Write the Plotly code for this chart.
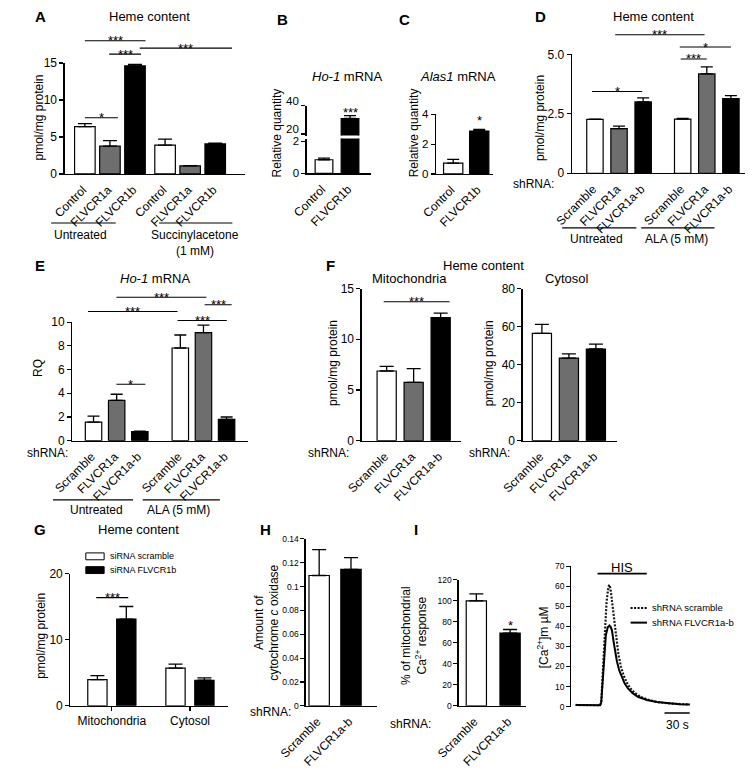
import plotly.graph_objects as go

W, H = 755, 772
WHITE, GRAY, BLACK = "#ffffff", "#6e6e6e", "#000000"
FONT = "Liberation Sans, Arial, Helvetica, sans-serif"

# ---------------- data ----------------
# A: heme content (pmol/mg protein)
a_labels = ["Control", "FLVCR1a", "FLVCR1b", "Control", "FLVCR1a", "FLVCR1b"]
a_values = [6.4, 3.75, 14.6, 3.9, 1.1, 4.05]
a_errors = [0.4, 0.75, 0.2, 0.8, 0.03, 0.12]
a_groups = ["Untreated", "Succinylacetone", "(1 mM)"]

# B: Ho-1 mRNA (relative quantity, broken axis)
b_labels = ["Control", "FLVCR1b"]
b_values = [0.85, 31.0]
b_errors = [0.1, 2.0]
b_upper_ticks = [20, 40]

# C: Alas1 mRNA (relative quantity)
c_labels = ["Control", "FLVCR1b"]
c_values = [0.73, 2.88]
c_errors = [0.25, 0.1]

# D: heme content, shRNA
d_labels = ["Scramble", "FLVCR1a", "FLVCR1a-b", "Scramble", "FLVCR1a", "FLVCR1a-b"]
d_values = [2.27, 1.88, 3.0, 2.28, 4.18, 3.14]
d_errors = [0.01, 0.1, 0.17, 0.03, 0.3, 0.13]
d_groups = ["Untreated", "ALA (5 mM)"]

# E: Ho-1 mRNA RQ
e_labels = ["Scramble", "FLVCR1a", "FLVCR1a-b", "Scramble", "FLVCR1a", "FLVCR1a-b"]
e_values = [1.57, 3.4, 0.77, 7.82, 9.12, 1.8]
e_errors = [0.5, 0.52, 0.03, 1.1, 0.63, 0.2]
e_groups = ["Untreated", "ALA (5 mM)"]

# F: heme content, mitochondria / cytosol
f_labels = ["Scramble", "FLVCR1a", "FLVCR1a-b"]
f_mito_values = [6.87, 5.74, 12.13]
f_mito_errors = [0.45, 1.36, 0.45]
f_cyto_values = [56.4, 43.4, 48.2]
f_cyto_errors = [4.7, 2.2, 2.6]

# G: heme content, siRNA
g_categories = ["Mitochondria", "Cytosol"]
g_scramble = [3.97, 5.7]
g_scramble_err = [0.6, 0.6]
g_flvcr1b = [13.15, 3.87]
g_flvcr1b_err = [1.9, 0.35]
g_series = ["siRNA scramble", "siRNA FLVCR1b"]

# H: cytochrome c oxidase
h_labels = ["Scramble", "FLVCR1a-b"]
h_values = [0.1093, 0.1145]
h_errors = [0.0217, 0.0098]

# I: mitochondrial Ca2+ response
i_labels = ["Scramble", "FLVCR1a-b"]
i_values = [99.8, 69.2]
i_errors = [6.8, 3.4]

# I: [Ca2+]m traces (time in s, concentration in uM)
i_t_scr = [0, 8, 16, 24, 29, 30.5, 32, 34, 36.8, 38.5, 39.9, 41.5, 43, 45, 47, 49, 51,
           54, 57, 61, 65, 70, 78, 88, 97, 110, 124, 136]
i_ca_scr = [0.8, 0.8, 0.7, 0.6, 0.6, 2.0, 13.0, 34.0, 51.7, 58.0, 60.7, 59.0, 54.0, 47.0,
            39.0, 32.0, 26.0, 20.0, 15.8, 12.0, 9.2, 7.0, 4.7, 3.2, 2.3, 1.6, 1.2, 1.0]
i_t_kd = [0, 8, 16, 24, 29, 30.5, 32, 34, 36, 38.3, 40.3, 42, 43.3, 45.3, 47, 49.2, 52,
          55, 58.5, 62.7, 68, 74.2, 85, 97, 110, 124, 136]
i_ca_kd = [0.8, 0.8, 0.7, 0.6, 0.6, 2.0, 12.0, 27.0, 35.5, 39.5, 40.4, 39.5, 38.0, 32.3,
           27.5, 22.6, 18.0, 14.6, 11.5, 8.9, 6.7, 4.9, 3.3, 2.3, 1.6, 1.2, 1.0]
i_series = ["shRNA scramble", "shRNA FLVCR1a-b"]
i_his = [26.1, 84.8]      # HIS application window (s)
i_scale = [106, 136]      # 30 s scale bar

# ---------------- helpers ----------------
fig = go.Figure()
axes = {}
shapes = []
annotations = []


def ref(i, l):
    return l if i == 1 else f"{l}{i}"


def axname(i, l):
    return f"{l}axis" if i == 1 else f"{l}axis{i}"


def fx(x):
    return x / W


def fy(y):
    return 1 - y / H


def text_px(text, x, y, size=12, xanchor="center", yanchor="middle", angle=0):
    annotations.append(dict(text=text, x=fx(x), y=fy(y), xref="paper", yref="paper",
                            showarrow=False, xanchor=xanchor, yanchor=yanchor,
                            textangle=angle,
                            font=dict(size=size, color="black", family=FONT)))


def line_px(x0, x1, y, width=1.2, dash="solid"):
    shapes.append(dict(type="line", xref="paper", yref="paper", x0=fx(x0), x1=fx(x1),
                       y0=fy(y), y1=fy(y), line=dict(color="black", width=width, dash=dash)))


def positions(sizes, gap):
    pos, off = [], 0.0
    for n in sizes:
        pos += [off + k for k in range(n)]
        off += n + gap
    return pos


def setup_axes(i, L, R, top, bot, c0, u, yr, yticks, yticktext=None, xticks=None,
               xlabels=None, ysize=12, xangle=-45, xvisible=True, xtickmarks="", shift=0,
               standoff=0, ylabels=True):
    xr = [-(c0 - L) / u, (R - c0) / u]
    xa = dict(
        domain=[L / W, R / W], range=xr, anchor=ref(i, "y"), showline=True,
        linecolor="black", linewidth=1.2, showgrid=False, zeroline=False,
        ticks=xtickmarks, ticklen=4, tickwidth=1.2, tickcolor="black",
        tickangle=xangle, tickfont=dict(size=12, color="black", family=FONT),
        visible=xvisible, fixedrange=True)
    if xticks is not None:
        xa.update(tickmode="array", tickvals=xticks, ticktext=xlabels)
    else:
        xa.update(showticklabels=False)
    if shift:
        xa.update(ticklabelshift=shift)
    if standoff:
        xa.update(ticklabelstandoff=standoff)
    axes[axname(i, "x")] = xa
    axes[axname(i, "y")] = dict(
        domain=[1 - bot / H, 1 - top / H], range=yr, anchor=ref(i, "x"), showline=True,
        linecolor="black", linewidth=1.2, showgrid=False, zeroline=False,
        ticks="outside", ticklen=4, tickwidth=1.2, tickcolor="black",
        tickmode="array", tickvals=yticks,
        ticktext=yticktext if yticktext is not None else [str(t) for t in yticks],
        showticklabels=ylabels,
        tickfont=dict(size=ysize, color="black", family=FONT), fixedrange=True)
    return xr


def bars(i, x, y, err, colors, width, capw):
    fig.add_trace(go.Bar(
        x=x, y=y, width=width,
        marker=dict(color=colors, line=dict(color="black", width=1.2)),
        error_y=dict(type="data", array=err, arrayminus=[0] * len(err), symmetric=False,
                     color="black", thickness=1.3, width=capw),
        xaxis=ref(i, "x"), yaxis=ref(i, "y"), hoverinfo="skip", showlegend=False))


def dom(val, yr):
    return (val - yr[0]) / (yr[1] - yr[0])


def star(i, x, val, yr, stars):
    annotations.append(dict(text=stars, x=x, y=dom(val, yr), xref=ref(i, "x"),
                            yref=ref(i, "y") + " domain", showarrow=False,
                            yanchor="middle",
                            font=dict(size=13, color="black", family=FONT)))


def sig(i, x0, x1, val, yr, stars):
    f = dom(val, yr)
    shapes.append(dict(type="line", xref=ref(i, "x"), yref=ref(i, "y") + " domain",
                       x0=x0, x1=x1, y0=f, y1=f, line=dict(color="black", width=1.1)))
    star(i, (x0 + x1) / 2, val, yr, stars)


WGB = [WHITE, GRAY, BLACK]
WB = [WHITE, BLACK]
SH = -2   # shift of rotated category labels along the axis
SO = 3    # extra standoff of rotated category labels

# ---------------- A ----------------
pa = positions([3, 3], 0.2)
ya = [0, 15]
setup_axes(1, 39, 226, 57, 170, 60, 26, ya, [0, 5, 10, 15], xticks=pa, xlabels=a_labels,
           shift=SH, standoff=SO)
bars(1, pa, a_values, a_errors, WGB * 2, 0.82, 7)
sig(1, 0.0, 1.32, 7.6, ya, "*")
sig(1, 0.97, 2.24, 16.2, ya, "***")
sig(1, 0.0, 2.42, 18.0, ya, "***")
sig(1, 2.19, 5.87, 17.0, ya, "***")
line_px(25, 92, 220)
line_px(137, 213, 220)
text_px(a_groups[0], 55, 232)
text_px(a_groups[1], 174, 232)
text_px(a_groups[2], 174, 249)
text_px("<b>A</b>", 14, 10, size=15)
text_px("Heme content", 127, 10, size=13)
text_px("pmol/mg protein", 12, 113, angle=-90)

# ---------------- B (broken axis) ----------------
pb = positions([2], 0)
yb_low = [0, 2.165]
yb_up = [18.8, 40]
BL = 290
setup_axes(2, BL, 357, 134, 169.5, 308, 27, yb_low, [0, 2], xticks=pb, xlabels=b_labels,
           ysize=11.5, shift=SH, standoff=SO)
setup_axes(3, BL, 357, 100.7, 131, 308, 27, yb_up, b_upper_ticks, xvisible=False, ysize=11.5,
           ylabels=False)
bars(2, pb, b_values, b_errors, WB, 0.68, 6)
bars(3, pb, b_values, b_errors, WB, 0.68, 6)
star(3, pb[1], 35.6, yb_up, "***")
# upper-segment tick labels sit slightly above their ticks, as in the original
for t in b_upper_ticks:
    annotations.append(dict(text=str(t), x=fx(BL - 6), y=dom(t, yb_up), xref="paper",
                            yref="y3 domain", xanchor="right", yanchor="middle", yshift=5,
                            showarrow=False, font=dict(size=11.5, color="black", family=FONT)))
text_px("<b>B</b>", 265, 13, size=15)
text_px("<i>Ho-1</i> mRNA", 332, 71, size=13)
text_px("Relative quantity", 259, 128, angle=-90)

# ---------------- C ----------------
pc = positions([2], 0)
yc = [0, 4]
setup_axes(4, 424, 483, 109.3, 170, 442, 27, yc, [0, 2, 4], xticks=pc, xlabels=c_labels,
           ysize=11.5, shift=SH, standoff=SO)
bars(4, pc, c_values, c_errors, WB, 0.74, 6)
star(4, pc[1], 3.56, yc, "*")
text_px("<b>C</b>", 392, 13, size=15)
text_px("<i>Alas1</i> mRNA", 447, 71, size=13)
text_px("Relative quantity", 401, 128, angle=-90)

# ---------------- D ----------------
pd_ = positions([3, 3], 0.64)
yd = [0, 5]
setup_axes(5, 565, 745, 48.3, 169.3, 589, 25, yd, [0, 2.5, 5], ["0", "2.5", "5.0"],
           xticks=pd_, xlabels=d_labels, shift=SH, standoff=SO)
bars(5, pd_, d_values, d_errors, WGB * 2, 0.68, 6)
sig(5, -0.12, 1.96, 3.44, yd, "*")
sig(5, 0.84, 4.55, 5.83, yd, "***")
sig(5, 3.52, 5.64, 5.31, yd, "*")
sig(5, 3.56, 4.64, 4.81, yd, "***")
line_px(555, 632, 225)
line_px(637, 713, 225)
text_px(d_groups[0], 591, 236)
text_px(d_groups[1], 674, 236)
text_px("shRNA:", 525, 180)
text_px("<b>D</b>", 533, 10, size=15)
text_px("Heme content", 650, 10, size=13)
text_px("pmol/mg protein", 532, 113, angle=-90)

# ---------------- E ----------------
pe = positions([3, 3], 0.75)
ye = [0, 10]
setup_axes(6, 47, 229, 321, 441.7, 69, 24, ye, [0, 2, 4, 6, 8, 10], xticks=pe, xlabels=e_labels,
           shift=SH, standoff=SO)
bars(6, pe, e_values, e_errors, WGB * 2, 0.71, 6)
sig(6, 0.99, 2.24, 4.76, ye, "*")
sig(6, 0.99, 4.88, 12.1, ye, "***")
sig(6, -0.24, 3.63, 10.9, ye, "***")
sig(6, 4.8, 5.97, 11.47, ye, "***")
sig(6, 3.63, 5.76, 10.14, ye, "***")
line_px(27, 110, 502)
line_px(120, 200, 502)
text_px(e_groups[0], 72, 512)
text_px(e_groups[1], 157, 512)
text_px("shRNA:", 21, 454)
text_px("<b>E</b>", 13, 263, size=15)
text_px("<i>Ho-1</i> mRNA", 133, 277, size=13)
text_px("RQ", 12, 368, angle=-90)

# ---------------- F ----------------
pf = positions([3], 0)
yf1 = [0, 15]
yf2 = [0, 80]
setup_axes(7, 347, 450, 286.7, 441.7, 373, 28, yf1, [0, 5, 10, 15], xticks=pf, xlabels=f_labels,
           shift=SH, standoff=SO)
setup_axes(8, 514, 612, 286.7, 441.7, 534, 28, yf2, [0, 20, 40, 60, 80], xticks=pf,
           xlabels=f_labels, shift=SH, standoff=SO)
bars(7, pf, f_mito_values, f_mito_errors, WGB, 0.71, 7)
bars(8, pf, f_cyto_values, f_cyto_errors, WGB, 0.71, 7)
sig(7, -0.11, 2.33, 13.7, yf1, "***")
text_px("shRNA:", 313, 454)
text_px("shRNA:", 480, 454)
text_px("<b>F</b>", 315, 263, size=15)
text_px("Heme content", 473, 263, size=13)
text_px("Mitochondria", 397, 277, size=13)
text_px("Cytosol", 560, 277, size=13)
text_px("pmol/mg protein", 318, 363, angle=-90)
text_px("pmol/mg protein", 480, 363, angle=-90)

# ---------------- G ----------------
pg = positions([2], 0)
yg = [0, 20]
setup_axes(9, 45, 208, 577.3, 711.7, 88, 81, yg, [0, 10, 20], xticks=pg, xlabels=g_categories,
           xangle=0, xtickmarks="outside")
bars(9, [p - 0.185 for p in pg], g_scramble, g_scramble_err, [WHITE] * 2, 0.247, 7)
bars(9, [p + 0.185 for p in pg], g_flvcr1b, g_flvcr1b_err, [BLACK] * 2, 0.247, 7)
sig(9, -0.2, 0.21, 16.4, yg, "***")
shapes.append(dict(type="rect", xref="paper", yref="paper", x0=fx(61), x1=fx(80),
                   y0=fy(563), y1=fy(556), fillcolor=WHITE, line=dict(color="black", width=1)))
shapes.append(dict(type="rect", xref="paper", yref="paper", x0=fx(61), x1=fx(80),
                   y0=fy(577), y1=fy(570), fillcolor=BLACK, line=dict(color="black", width=1)))
text_px(g_series[0], 84, 559.5, size=9, xanchor="left")
text_px(g_series[1], 84, 573.5, size=9, xanchor="left")
text_px("<b>G</b>", 13, 532, size=15)
text_px("Heme content", 116, 532, size=13)
text_px("pmol/mg protein", 15, 640, angle=-90)

# ---------------- H ----------------
ph = positions([2], 0)
yh = [0, 0.14]
setup_axes(10, 289, 363, 541.7, 711.7, 303, 33, yh,
           [0, 0.02, 0.04, 0.06, 0.08, 0.1, 0.12, 0.14],
           ["0", "0.02", "0.04", "0.06", "0.08", "0.1", "0.12", "0.14"],
           xticks=ph, xlabels=h_labels, ysize=8.5, shift=SH, standoff=SO)
bars(10, ph, h_values, h_errors, WB, 0.64, 7)
text_px("shRNA:", 253, 718)
text_px("<b>H</b>", 247, 532, size=15)
text_px("Amount of<br>cytochrome <i>c</i> oxidase", 248, 627, angle=-90)

# ---------------- I (bars) ----------------
pi = positions([2], 0)
yi = [0, 120]
setup_axes(11, 447.7, 517, 583.3, 711.7, 466, 35, yi, [0, 20, 40, 60, 80, 100, 120],
           xticks=pi, xlabels=i_labels, ysize=8.5, shift=SH, standoff=SO)
bars(11, pi, i_values, i_errors, WB, 0.6, 7)
star(11, pi[1], 76.4, yi, "*")
text_px("shRNA:", 398, 730)
text_px("<b>I</b>", 403, 532, size=15)
text_px("% of mitochondrial<br>Ca<sup>2+</sup> response", 402, 640, angle=-90)

# ---------------- I (traces) ----------------
yl = [0, 70]
setup_axes(12, 564.5, 690, 569.5, 712.5, 569, 1 / 1.15, yl, [0, 10, 20, 30, 40, 50, 60, 70],
           ysize=8.5, xvisible=False)
fig.add_trace(go.Scatter(x=i_t_scr, y=i_ca_scr, mode="lines", name=i_series[0],
                         line=dict(color="#1a1a1a", width=2.2, dash="2px,1.5px"),
                         xaxis="x12", yaxis="y12", hoverinfo="skip", showlegend=False))
fig.add_trace(go.Scatter(x=i_t_kd, y=i_ca_kd, mode="lines", name=i_series[1],
                         line=dict(color="black", width=2),
                         xaxis="x12", yaxis="y12", hoverinfo="skip", showlegend=False))
shapes.append(dict(type="line", xref="x12", yref="y12", x0=i_his[0], x1=i_his[1],
                   y0=66.3, y1=66.3, line=dict(color="black", width=1.6)))
annotations.append(dict(text="HIS", x=sum(i_his) / 2, y=69.1, xref="x12", yref="y12",
                        showarrow=False, yanchor="middle",
                        font=dict(size=13, color="black", family=FONT)))
shapes.append(dict(type="line", xref="x12", yref="paper", x0=i_scale[0], x1=i_scale[1],
                   y0=fy(719), y1=fy(719), line=dict(color="black", width=1.6)))
text_px("30 s", 675, 731, size=12)
line_px(626, 643, 612, width=2, dash="2px,1.5px")
line_px(626, 643, 627, width=2)
text_px(i_series[0], 646, 612, size=9.5, xanchor="left")
text_px(i_series[1], 646, 627, size=9.5, xanchor="left")
text_px("[Ca<sup>2+</sup>]m µM", 535, 642, angle=-90)

fig.update_layout(
    width=W, height=H, margin=dict(l=0, r=0, t=0, b=0, pad=0),
    paper_bgcolor="white", plot_bgcolor="rgba(0,0,0,0)",
    font=dict(family=FONT, color="black", size=12),
    barmode="overlay", showlegend=False,
    shapes=shapes, annotations=annotations, **axes)

fig.write_html("out.html", config={"displayModeBar": False, "staticPlot": True},
               post_script="document.body.style.margin='0px';")
